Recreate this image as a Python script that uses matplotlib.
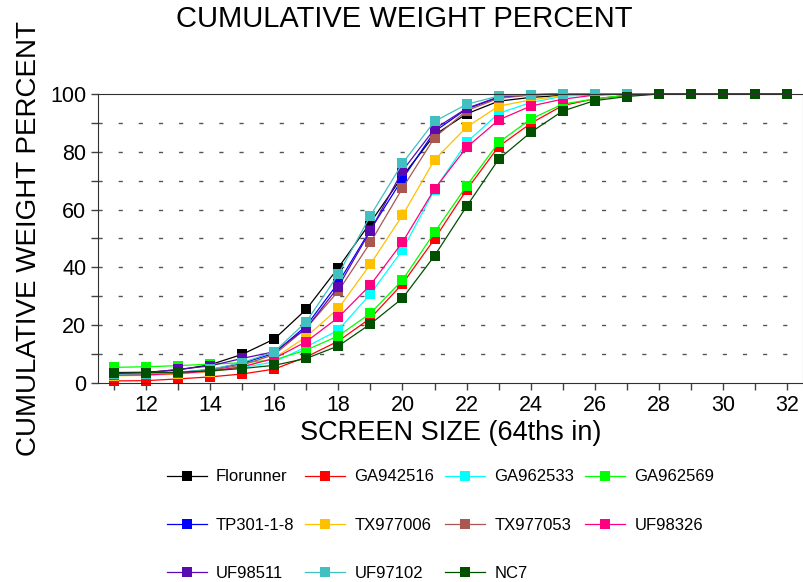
import matplotlib.pyplot as plt
from matplotlib.ticker import MultipleLocator

plt.rcParams['font.family'] = ['Liberation Sans', 'DejaVu Sans']

sizes = [11, 12, 13, 14, 15, 16, 17, 18, 19, 20, 21, 22, 23, 24, 25, 26, 27, 28, 29, 30, 31, 32]

florunner = [3.6, 3.7, 4.5, 6.3, 9.9, 15.2, 25.5, 39.9, 55.5, 71.5, 85.8, 93.1, 97.5, 98.8, 99.5, 99.8, 100, 100, 100, 100, 100, 100]
ga942516 = [0.7, 0.8, 1.4, 2.1, 3.1, 4.8, 9.0, 14.5, 22.4, 34.3, 49.8, 66.8, 81.8, 89.8, 96.0, 98.3, 99.5, 100, 100, 100, 100, 100]
ga962533 = [2.8, 2.9, 3.3, 4.0, 5.3, 7.3, 12.5, 18.3, 30.8, 46.0, 66.8, 83.2, 93.3, 97.0, 99.2, 99.8, 100, 100, 100, 100, 100, 100]
ga962569 = [5.4, 5.6, 6.0, 6.5, 7.0, 8.0, 11.4, 16.3, 24.1, 35.6, 52.1, 68.2, 83.2, 91.3, 96.5, 98.3, 99.6, 100, 100, 100, 100, 100]
tp301 = [3.0, 3.1, 3.6, 4.6, 6.8, 10.3, 19.8, 34.7, 53.0, 70.6, 87.0, 94.8, 98.8, 99.7, 100, 100, 100, 100, 100, 100, 100, 100]
tx977006 = [2.5, 2.6, 3.1, 3.9, 5.5, 8.6, 16.0, 25.8, 41.1, 58.0, 77.2, 88.5, 95.8, 97.9, 99.4, 99.9, 100, 100, 100, 100, 100, 100]
tx977053 = [2.9, 3.0, 3.5, 4.4, 6.2, 9.8, 19.0, 31.8, 48.6, 67.4, 84.9, 94.2, 98.5, 99.6, 100, 100, 100, 100, 100, 100, 100, 100]
uf98326 = [2.7, 2.8, 3.3, 4.1, 5.6, 8.5, 14.3, 22.7, 33.9, 48.7, 67.1, 81.5, 91.0, 95.8, 98.2, 99.6, 100, 100, 100, 100, 100, 100]
uf98511 = [3.3, 3.5, 4.7, 5.9, 8.5, 10.8, 18.9, 33.3, 52.7, 73.4, 87.9, 95.0, 99.0, 99.8, 100, 100, 100, 100, 100, 100, 100, 100]
uf97102 = [3.0, 3.2, 3.7, 4.7, 7.0, 10.8, 21.2, 37.6, 57.9, 76.0, 90.5, 96.4, 99.3, 99.7, 100, 100, 100, 100, 100, 100, 100, 100]
nc7 = [3.3, 3.6, 3.7, 4.2, 5.0, 6.1, 8.5, 12.8, 20.4, 29.3, 44.0, 61.1, 77.4, 86.7, 94.1, 97.7, 99.1, 100, 100, 100, 100, 100]

names = ['Florunner', 'GA942516', 'GA962533', 'GA962569', 'TP301-1-8', 'TX977006',
         'TX977053', 'UF98326', 'UF98511', 'UF97102', 'NC7']
series = [florunner, ga942516, ga962533, ga962569, tp301, tx977006,
          tx977053, uf98326, uf98511, uf97102, nc7]
colors = ['#000000', '#ff0000', '#00ffff', '#00ff00', '#0000ff', '#ffc000',
          '#a9574f', '#ff0080', '#5a0ab0', '#40c0c0', '#005000']

fig = plt.figure(figsize=(8.04, 5.82), dpi=100)
ax = fig.add_axes([0.1219, 0.342, 0.877, 0.4966])

lines = []
for name, vals, c in zip(names, series, colors):
    ln, = ax.plot(sizes, vals, color=c, lw=0.9, marker='s', markersize=7.5,
                  markeredgewidth=0, label=name, clip_on=False)
    lines.append(ln)

ax.set_xlim(10.5, 32.5)
ax.set_ylim(0, 100)
ax.xaxis.set_major_locator(MultipleLocator(2))
ax.xaxis.set_minor_locator(MultipleLocator(1))
ax.yaxis.set_major_locator(MultipleLocator(20))
ax.yaxis.set_minor_locator(MultipleLocator(10))
ax.tick_params(which='both', direction='out', length=5, width=1, labelsize=15.5, color='#404040')

for yv in range(10, 100, 10):
    ax.axhline(yv, color='#555555', lw=1, linestyle=(0, (3, 11.5)), zorder=0)

for s in ['left', 'bottom', 'top']:
    ax.spines[s].set_color('#303030')
ax.spines['right'].set_color('#888888')

ax.set_xlabel('SCREEN SIZE (64ths in)', fontsize=19.5, labelpad=3)
ax.set_ylabel('CUMULATIVE WEIGHT PERCENT', fontsize=20, labelpad=6)
fig.text(0.503, 0.967, 'CUMULATIVE WEIGHT PERCENT', fontsize=21, ha='center', va='center')

# legend reads row by row, matplotlib fills by column
order = [0, 4, 8, 1, 5, 9, 2, 6, 10, 3, 7]
fig.legend([lines[i] for i in order], [names[i] for i in order],
           loc='upper center', bbox_to_anchor=(0.548, 0.205), ncol=4, frameon=False,
           fontsize=12, handlelength=2.4, handletextpad=0.55, columnspacing=0.65,
           labelspacing=2.0, borderaxespad=0)

fig.savefig('out.png', dpi=100)
